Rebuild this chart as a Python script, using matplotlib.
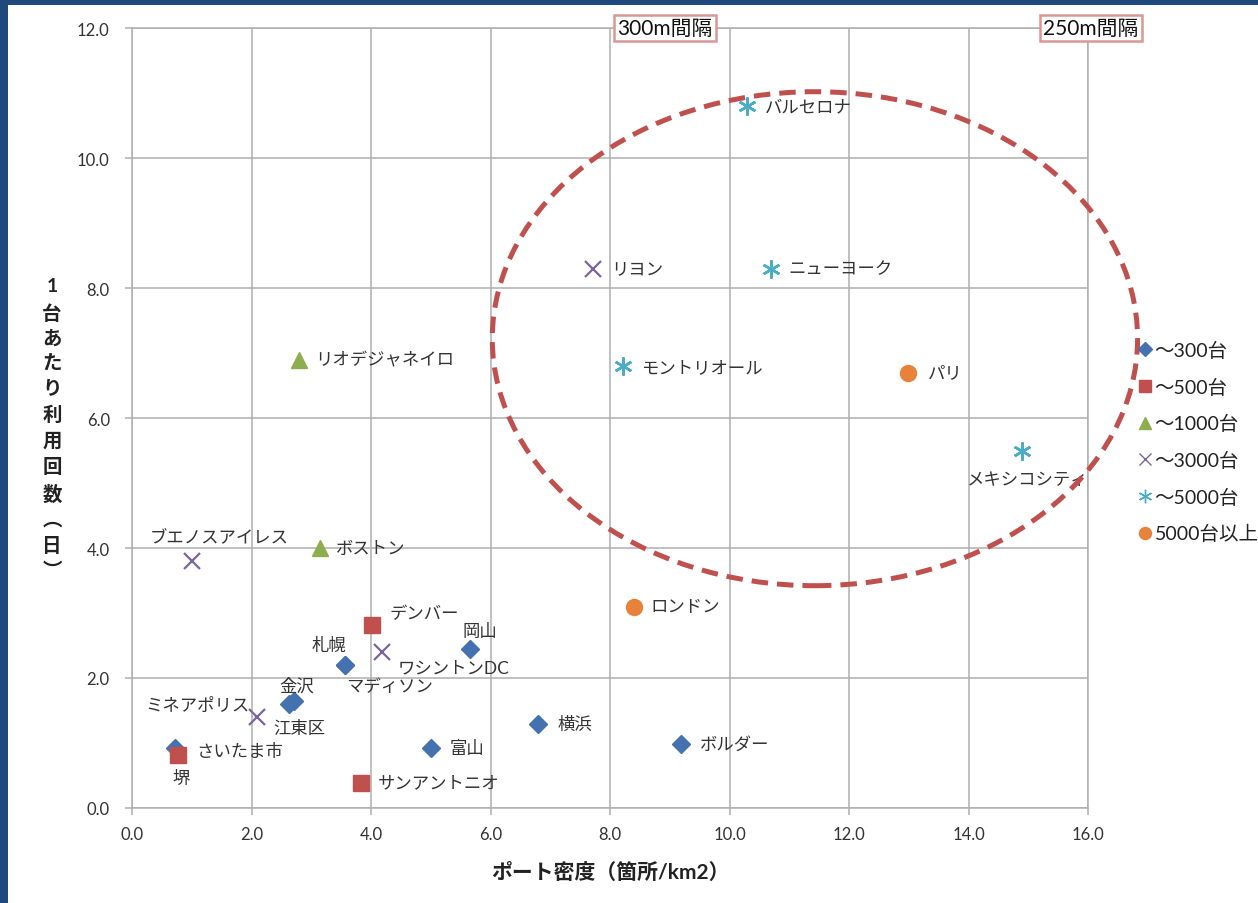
import matplotlib
matplotlib.use("Agg")
import matplotlib.pyplot as plt
from matplotlib.patches import Ellipse, Rectangle
from matplotlib.lines import Line2D

plt.rcParams['font.family'] = ['Lato', 'Noto Sans CJK JP', 'DejaVu Sans']

# ---- data: port density (sites/km2) vs. daily uses per bike ----
names_300 = ['札幌', '岡山', '江東区', '金沢', '富山', '横浜', 'ボルダー', '堺', 'マディソン']
x_300 = [3.56, 5.66, 2.63, 2.71, 5.0, 6.8, 9.19, 0.72, 3.56]
y_300 = [2.2, 2.44, 1.6, 1.64, 0.92, 1.3, 0.98, 0.92, 2.2]

names_500 = ['デンバー', 'さいたま市', 'サンアントニオ']
x_500 = [4.01, 0.77, 3.83]
y_500 = [2.81, 0.82, 0.39]

names_1000 = ['リオデジャネイロ', 'ボストン']
x_1000 = [2.8, 3.15]
y_1000 = [6.9, 4.0]

names_3000 = ['ブエノスアイレス', 'ワシントンDC', 'ミネアポリス', 'リヨン']
x_3000 = [1.0, 4.18, 2.09, 7.71]
y_3000 = [3.8, 2.4, 1.4, 8.3]

names_5000 = ['バルセロナ', 'ニューヨーク', 'モントリオール', 'メキシコシティ']
x_5000 = [10.29, 10.69, 8.22, 14.89]
y_5000 = [10.8, 8.3, 6.8, 5.5]

names_over = ['パリ', 'ロンドン']
x_over = [12.99, 8.4]
y_over = [6.7, 3.1]

series_labels = ['～300台', '～500台', '～1000台', '～3000台', '～5000台', '5000台以上']
x_ticks = [0, 2, 4, 6, 8, 10, 12, 14, 16]
y_ticks = [0, 2, 4, 6, 8, 10, 12]

# label placement: (dx px, dy px, horizontal alignment)
label_pos = {
    '札幌': (-16, 20, 'center'), '岡山': (10, 18, 'center'),
    '金沢': (3, 16, 'center'), '江東区': (10, -24, 'center'),
    '富山': (19, 0, 'left'), '横浜': (19, 0, 'left'), 'ボルダー': (19, 0, 'left'),
    '堺': (6, -30, 'center'), 'マディソン': (45, -21, 'center'),
    'デンバー': (18, 12, 'left'), 'さいたま市': (18, 4, 'left'),
    'サンアントニオ': (17, 0, 'left'),
    'リオデジャネイロ': (16, 0, 'left'), 'ボストン': (16, 0, 'left'),
    'ブエノスアイレス': (27, 24, 'center'), 'ワシントンDC': (16, -15, 'left'),
    'ミネアポリス': (-7, 12, 'right'), 'リヨン': (18, 0, 'left'),
    'バルセロナ': (18, 0, 'left'), 'ニューヨーク': (18, 0, 'left'),
    'モントリオール': (18, -1, 'left'), 'メキシコシティ': (5, -29, 'center'),
    'パリ': (20, 0, 'left'), 'ロンドン': (17, 0, 'left'),
}

W, H = 1258, 904
fig = plt.figure(figsize=(W / 100, H / 100), dpi=100)
fig.patch.set_facecolor('white')

# window frame
fig.add_artist(Rectangle((0, 0), 8 / W, 1, transform=fig.transFigure,
                         facecolor='#1F497D', edgecolor='none', zorder=0))
fig.add_artist(Rectangle((0, 1 - 6 / H), 1, 6 / H, transform=fig.transFigure,
                         facecolor='#1F497D', edgecolor='none', zorder=0))

ax = fig.add_axes([132 / W, 1 - 809 / H, (1088 - 132) / W, (809 - 29) / H])
ax.set_xlim(0, 16)
ax.set_ylim(0, 12)
ax.set_xticks(x_ticks)
ax.set_yticks(y_ticks)
ax.set_xticklabels([f'{v:.1f}' for v in x_ticks])
ax.set_yticklabels([f'{v:.1f}' for v in y_ticks])
ax.grid(True, color='#AFAFAF', linewidth=1.1)
ax.set_axisbelow(True)
for s in ax.spines.values():
    s.set_color('#AFAFAF')
    s.set_linewidth(1.1)
ax.tick_params(axis='both', colors='#AFAFAF', labelcolor='#333333',
               labelsize=12, length=5, width=1.1)
ax.tick_params(axis='x', pad=8)
ax.tick_params(axis='y', pad=11)

styles = [
    (names_300, x_300, y_300, dict(marker='D', color='#4472B0', markersize=9.5)),
    (names_500, x_500, y_500, dict(marker='s', color='#C0504D', markersize=11)),
    (names_1000, x_1000, y_1000, dict(marker='^', color='#8CAE4E', markersize=11)),
    (names_3000, x_3000, y_3000, dict(marker='x', color='#7A6699', markersize=11, mew=1.6)),
    (names_5000, x_5000, y_5000, dict(marker=(6, 2, 0), color='#4BACC6', markersize=13, mew=1.8)),
    (names_over, x_over, y_over, dict(marker='o', color='#E8823A', markersize=11.5)),
]

handles = []
for (names, xs, ys, st), lab in zip(styles, series_labels):
    ax.plot(xs, ys, linestyle='none', zorder=3, clip_on=False, **st)
    hs = dict(st)
    hs['markersize'] = st['markersize'] * 0.75
    if 'mew' in hs:
        hs['mew'] = 1.0
    handles.append(Line2D([], [], linestyle='none', label=lab, **hs))
    for n, x, y in zip(names, xs, ys):
        dx, dy, ha = label_pos[n]
        ax.annotate(n, (x, y), xytext=(dx * 0.72, dy * 0.72),
                    textcoords='offset points', ha=ha, va='center',
                    fontsize=12.5, color='#333333', zorder=4)

# highlighted cluster
ax.add_patch(Ellipse((11.43, 7.22), 10.8, 7.6, fill=False, edgecolor='#C0504D',
                     linewidth=3.6, linestyle=(0, (3.3, 1.8)), clip_on=False, zorder=5))

ax.set_xlabel('ポート密度（箇所/km2）', fontsize=15, fontweight='bold',
              color='#222222', labelpad=14)

ylab = '\n'.join(['1', '台', 'あ', 'た', 'り', '利', '用', '回', '数', '︵', '日', '︶'])
fig.text(52 / W, 1 - 429 / H, ylab, ha='center', va='center', fontsize=14,
         fontweight='bold', color='#222222', linespacing=1.55,
         multialignment='center')

box = dict(boxstyle='square,pad=0.14', facecolor='white', edgecolor='#D99694', linewidth=1.8)
fig.text(665 / W, 1 - 29 / H, '300m間隔', ha='center', va='center', fontsize=15,
         color='#111111', bbox=box, zorder=10)
fig.text(1091 / W, 1 - 29 / H, '250m間隔', ha='center', va='center', fontsize=15,
         color='#111111', bbox=box, zorder=10)

fig.legend(handles=handles, loc='upper left', bbox_to_anchor=(1139 / W, 1 - 342 / H),
           frameon=False, fontsize=14, handlelength=0.6, handletextpad=0.2,
           labelspacing=0.95, borderaxespad=0, borderpad=0, labelcolor='#222222')

fig.savefig('out.png', dpi=100, facecolor='white')
